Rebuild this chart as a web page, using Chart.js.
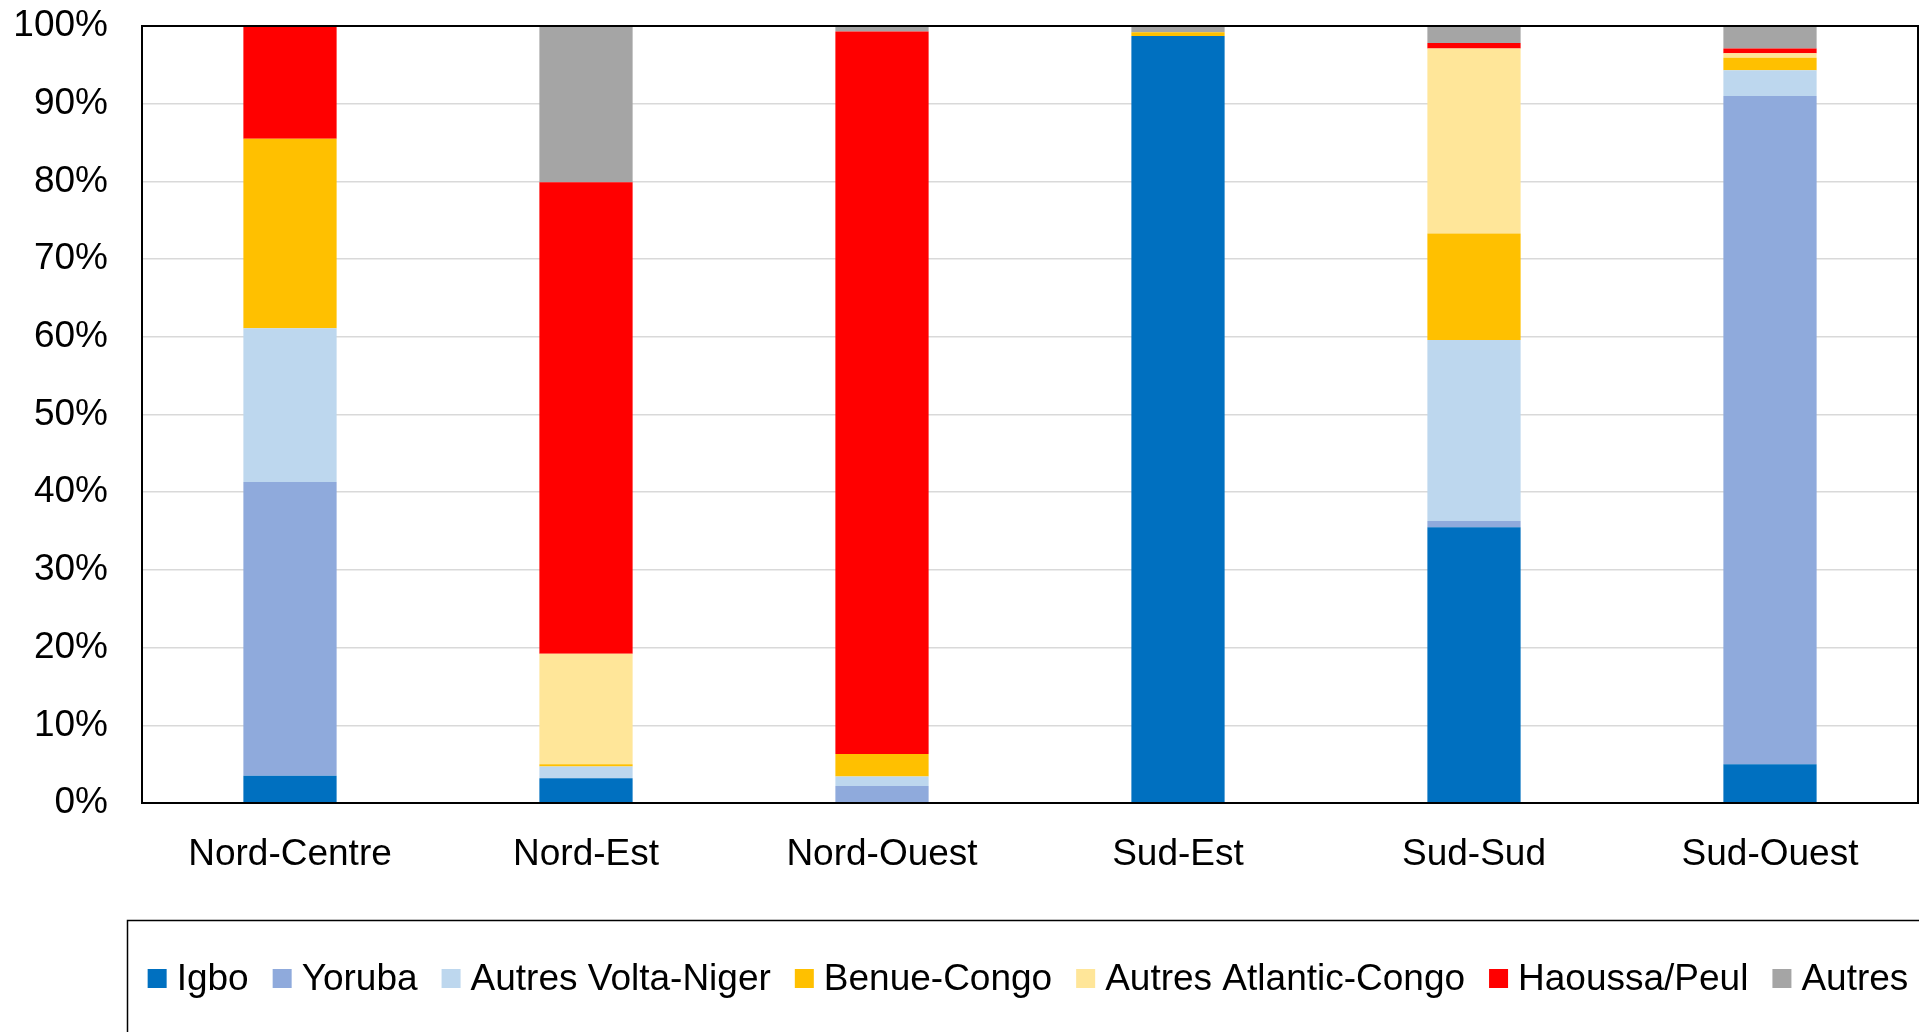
<!DOCTYPE html>
<html>
<head>
<meta charset="utf-8">
<script src="https://cdn.jsdelivr.net/npm/chart.js@4/dist/chart.umd.min.js"></script>
<style>
  html, body { margin: 0; padding: 0; background: #fff; overflow: hidden; }
</style>
</head>
<body>
<canvas id="chart" width="1919" height="1032"></canvas>
<script>
const regions = ['Nord-Centre', 'Nord-Est', 'Nord-Ouest', 'Sud-Est', 'Sud-Sud', 'Sud-Ouest'];
const seriesNames = ['Igbo', 'Yoruba', 'Autres Volta-Niger', 'Benue-Congo', 'Autres Atlantic-Congo', 'Haoussa/Peul', 'Autres'];
const seriesColors = ['#0070C0', '#8FAADC', '#BDD7EE', '#FFC000', '#FFE699', '#FF0000', '#A5A5A5'];

const igbo          = [3.5,  3.2,  0,    98.7, 35.5, 5.0];
const yoruba        = [37.8, 0,    2.2,  0,    0.8,  86.0];
const autresVolta   = [19.8, 1.5,  1.2,  0,    23.3, 3.3];
const benueCongo    = [24.4, 0.3,  2.9,  0.5,  13.7, 1.6];
const autresAtlanic = [0,    14.2, 0,    0,    23.8, 0.6];
const haoussaPeul   = [14.5, 60.7, 93.0, 0,    0.7,  0.6];
const autres        = [0,    20.1, 0.7,  0.8,  2.2,  2.9];

const yTicks = [0, 10, 20, 30, 40, 50, 60, 70, 80, 90, 100];

const values = [igbo, yoruba, autresVolta, benueCongo, autresAtlanic, haoussaPeul, autres];
const font = 'Liberation Sans, Arial, sans-serif';
const fontSize = 37;

// plot frame + legend drawn in its own box under the axis
const frame = {
  id: 'frame',
  afterDatasetsDraw(chart) {
    const { ctx, chartArea: a } = chart;
    ctx.save();
    ctx.strokeStyle = '#000';
    ctx.lineWidth = 2;
    ctx.strokeRect(a.left, a.top, a.right - a.left, a.bottom - a.top);
    ctx.restore();
  },
  afterDraw(chart) {
    const ctx = chart.ctx;
    ctx.save();
    ctx.strokeStyle = '#000';
    ctx.lineWidth = 1.5;
    ctx.beginPath();
    ctx.moveTo(127.5, 1032);
    ctx.lineTo(127.5, 920.5);
    ctx.lineTo(1919, 920.5);
    ctx.stroke();

    ctx.font = fontSize + 'px ' + font;
    ctx.textBaseline = 'middle';
    ctx.fillStyle = '#000';
    const box = 19, gapText = 10, gapItem = 24;
    const items = chart.data.datasets.map(d => ({ text: d.label, color: d.backgroundColor, w: ctx.measureText(d.label).width }));
    const total = items.reduce((s, it) => s + box + gapText + it.w, 0) + gapItem * (items.length - 1);
    let x = 1028 - total / 2;
    const y = 978.5;
    items.forEach(it => {
      ctx.fillStyle = it.color;
      ctx.fillRect(x, y - box / 2, box, box);
      x += box + gapText;
      ctx.fillStyle = '#000';
      ctx.fillText(it.text, x, y + 1);
      x += it.w + gapItem;
    });
    ctx.restore();
  }
};

new Chart(document.getElementById('chart'), {
  type: 'bar',
  data: {
    labels: regions,
    datasets: seriesNames.map((name, i) => ({
      label: name,
      data: values[i],
      backgroundColor: seriesColors[i],
      borderWidth: 0,
      categoryPercentage: 1,
      barPercentage: 0.315
    }))
  },
  options: {
    responsive: false,
    animation: false,
    devicePixelRatio: 1,
    layout: { padding: { left: 0, right: 1, top: 26, bottom: 0 } },
    plugins: {
      tooltip: { enabled: false },
      legend: { display: false }
    },
    scales: {
      x: {
        stacked: true,
        grid: { display: false },
        border: { display: true, color: '#000', width: 2 },
        ticks: { color: '#000', padding: 22, font: { size: fontSize, family: font }, maxRotation: 0 },
        afterFit: s => { s.height = 229; }
      },
      y: {
        stacked: true,
        min: 0,
        max: 100,
        afterBuildTicks: s => { s.ticks = yTicks.map(v => ({ value: v })); },
        grid: { color: '#D9D9D9', lineWidth: 1.5, drawTicks: false },
        border: { display: true, color: '#000', width: 2 },
        ticks: {
          color: '#000',
          padding: 34,
          font: { size: fontSize, family: font },
          callback: v => v + '%'
        },
        afterFit: s => { s.width = 142; s.paddingTop = 0; s.paddingBottom = 0; }
      }
    }
  },
  plugins: [frame]
});
</script>
</body>
</html>
